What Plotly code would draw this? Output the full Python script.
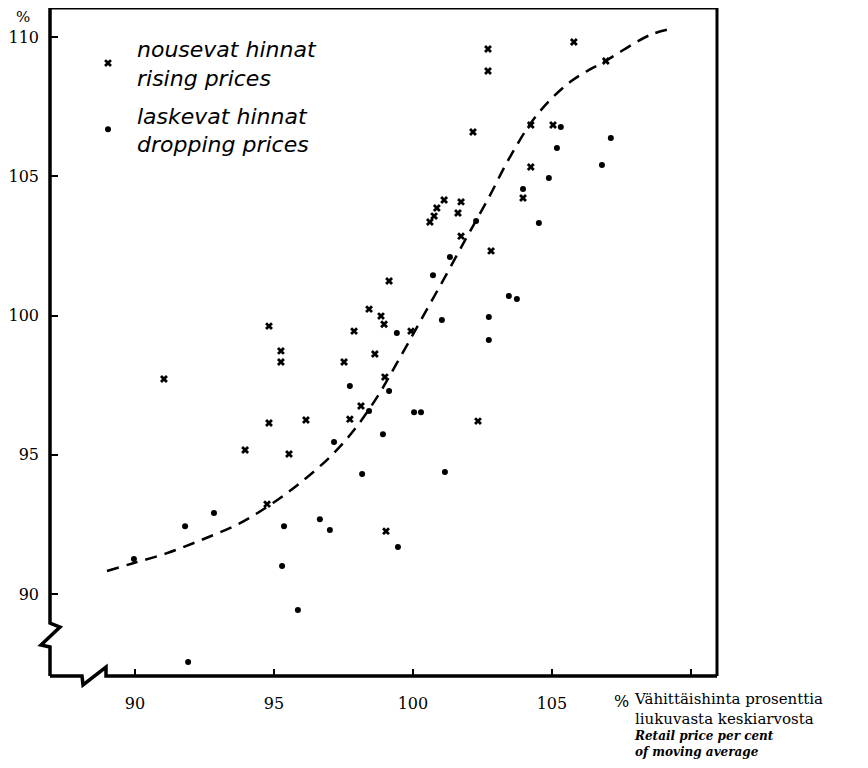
import plotly.graph_objects as go

# ---- data ----
rising_x = [102.70, 102.70, 105.79, 106.94, 102.16, 104.24, 105.04, 104.24, 103.96, 101.12,
            101.73, 100.86, 101.62, 100.76, 100.61, 101.73, 102.81, 99.14, 99.93, 98.42,
            98.85, 98.96, 94.82, 97.88, 95.25, 95.25, 97.52, 98.63, 98.99, 91.04,
            98.13, 94.82, 96.15, 97.73, 93.96, 95.54, 94.75, 99.03, 102.34]
rising_y = [109.57, 108.78, 109.82, 109.14, 106.59, 106.84, 106.84, 105.33, 104.22, 104.15,
            104.08, 103.86, 103.68, 103.57, 103.36, 102.85, 102.32, 101.24, 99.44, 100.23,
            99.98, 99.69, 99.62, 99.44, 98.73, 98.33, 98.33, 98.62, 97.79, 97.72,
            96.75, 96.14, 96.25, 96.28, 95.17, 95.03, 93.23, 92.26, 96.21]

dropping_x = [105.32, 107.12, 105.18, 106.80, 104.89, 103.96, 104.53, 102.27, 101.33, 100.72,
              103.45, 103.74, 101.04, 102.73, 102.73, 99.42, 97.73, 99.14, 98.42, 100.04,
              100.29, 98.92, 97.16, 98.17, 101.15, 91.80, 92.84, 95.36, 96.65, 97.01,
              99.46, 89.96, 95.29, 95.86, 91.91]
dropping_y = [106.77, 106.37, 106.01, 105.40, 104.94, 104.54, 103.32, 103.39, 102.10, 101.45,
              100.70, 100.59, 99.84, 99.95, 99.12, 99.37, 97.47, 97.29, 96.57, 96.53,
              96.53, 95.74, 95.46, 94.31, 94.38, 92.44, 92.91, 92.44, 92.69, 92.30,
              91.69, 91.26, 91.01, 89.43, 87.56]

curve_x = [88.99, 89.93, 91.15, 92.45, 93.78, 94.96, 95.94, 97.01, 97.88, 98.71, 99.42,
           100.25, 101.15, 101.94, 102.70, 103.49, 104.46, 105.65, 106.98, 108.53, 109.42]
curve_y = [90.83, 91.11, 91.47, 91.97, 92.55, 93.27, 93.99, 94.92, 95.89, 97.07, 98.29,
           99.77, 101.38, 102.82, 104.18, 105.69, 107.20, 108.38, 109.17, 110.07, 110.32]

x_ticks = [90, 95, 100, 105, 110]
x_ticktext = ["90", "95", "100", "105", ""]
y_ticks = [90, 95, 100, 105, 110]
y_ticktext = ["90", "95", "100", "105", "110"]

legend_rising = "nousevat hinnat<br>rising prices"
legend_dropping = "laskevat hinnat<br>dropping prices"

x_title_fi = "Vähittäishinta prosenttia<br>liukuvasta keskiarvosta"
x_title_en = "Retail price per cent<br>of moving average"

SERIF = "DejaVu Serif"
HAND = "DejaVu Sans"

fig = go.Figure()
fig.add_trace(go.Scatter(
    x=curve_x, y=curve_y, mode="lines", showlegend=False, hoverinfo="skip",
    line=dict(color="black", width=2.5, dash="12px,8px", shape="spline", smoothing=1.0)))
fig.add_trace(go.Scatter(
    x=rising_x, y=rising_y, mode="markers", name=legend_rising, legendgroup="r",
    marker=dict(symbol="x", size=7, color="black", line=dict(width=0))))
fig.add_trace(go.Scatter(
    x=dropping_x, y=dropping_y, mode="markers", name=legend_dropping, legendgroup="d",
    marker=dict(symbol="circle", size=6, color="black", line=dict(width=0))))

# page body has an 8px margin; figure sized to fit inside the window
OFF = 8
W, H = 860, 760
L, R, T, B = 42, 151, 0, 92
pw, ph = W - L - R, H - T - B


def px(xs):
    return (xs - OFF - L) / pw


def py(ys):
    return (H - B - (ys - OFF)) / ph


def path(pts):
    return "M " + " L ".join(f"{px(a):.5f},{py(b):.5f}" for a, b in pts)


frame_style = dict(type="path", xref="paper", yref="paper", line=dict(color="black", width=3.5))
shapes = [
    # left axis with break
    dict(path=path([(50, 8), (50, 623), (60, 627), (41, 645), (50, 647), (50, 676)]), **frame_style),
    # bottom axis with break
    dict(path=path([(50, 676), (82, 676), (83, 685), (106, 667), (106, 676), (717, 676)]), **frame_style),
    # top and right frame
    dict(path=path([(50, 8), (717, 8), (717, 676)]), type="path", xref="paper", yref="paper",
         line=dict(color="black", width=3)),
]

annotations = [
    dict(text="%", xref="paper", yref="paper", x=px(23), y=py(17), showarrow=False,
         xanchor="center", yanchor="middle", font=dict(family=SERIF, size=15, color="black")),
    dict(text="%", xref="paper", yref="paper", x=px(621), y=py(701), showarrow=False,
         xanchor="center", yanchor="middle", font=dict(family=SERIF, size=16, color="black")),
    dict(text=x_title_fi, xref="paper", yref="paper", x=px(632), y=py(688),
         showarrow=False, xanchor="left", yanchor="top", align="left",
         font=dict(family=SERIF, size=15, color="black")),
    dict(text=f"<i><b>{x_title_en}</b></i>", xref="paper", yref="paper", x=px(632), y=py(727),
         showarrow=False, xanchor="left", yanchor="top", align="left",
         font=dict(family=SERIF, size=12, color="black")),
]

fig.update_layout(
    width=W, height=H,
    margin=dict(l=L, r=R, t=T, b=B, autoexpand=False),
    plot_bgcolor="white", paper_bgcolor="white",
    shapes=shapes, annotations=annotations,
    showlegend=True,
    legend=dict(x=px(79), y=py(28), xanchor="left", yanchor="top",
                traceorder="grouped", tracegroupgap=6,
                bgcolor="rgba(0,0,0,0)", borderwidth=0, itemwidth=48,
                font=dict(family=HAND, size=22, color="black", style="italic")),
    xaxis=dict(range=[86.94, 110.94], showgrid=False, zeroline=False, showline=False,
               tickmode="array", tickvals=x_ticks, ticktext=x_ticktext,
               ticks="inside", ticklen=7, tickwidth=2, tickcolor="black",
               ticklabelstandoff=16, automargin=False,
               tickfont=dict(family=SERIF, size=16, color="black")),
    yaxis=dict(range=[87.06, 111.04], showgrid=False, zeroline=False, showline=False,
               tickmode="array", tickvals=y_ticks, ticktext=y_ticktext,
               ticks="inside", ticklen=8, tickwidth=2, tickcolor="black",
               ticklabelstandoff=10, automargin=False,
               tickfont=dict(family=SERIF, size=16, color="black")),
)

fig.write_html("out.html")
